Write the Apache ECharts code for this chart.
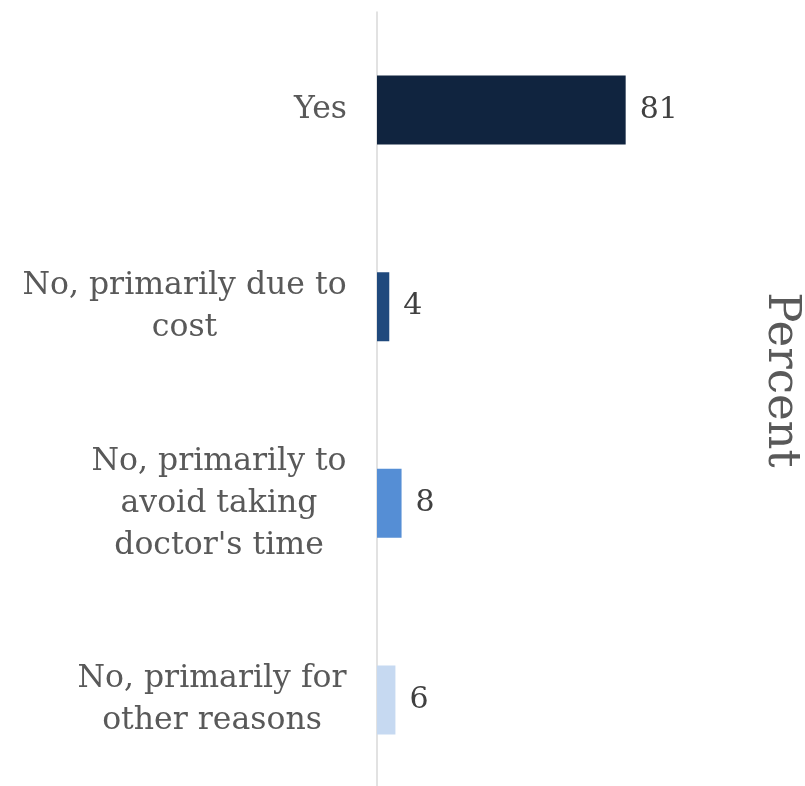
<!DOCTYPE html>
<html>
<head>
<meta charset="utf-8">
<script src="https://cdn.jsdelivr.net/npm/echarts@6/dist/echarts.min.js"></script>
<style>html,body{margin:0;padding:0;background:#fff}#c{width:805px;height:786px}</style>
</head>
<body>
<div id="c"></div>
<script>
const categories = ["Yes", "No, primarily due to\ncost", "No, primarily to\navoid taking\ndoctor's time", "No, primarily for\nother reasons"];
const values = [81, 4, 8, 6];
const barColors = ["#10243F", "#1F497D", "#558ED5", "#C6D9F1"];
const axisName = "Percent";

const FONT = "DejaVu Serif";
const LABEL_SIZE = 31.5;

const chart = echarts.init(document.getElementById('c'), null, {renderer: 'canvas'});

const cv = document.createElement('canvas').getContext('2d');
cv.font = LABEL_SIZE + 'px "' + FONT + '"';
const rich = {};
categories.forEach((c, i) => {
  const w = Math.max(...c.split('\n').map(l => cv.measureText(l).width));
  rich['c' + i] = {width: Math.ceil(w), align: 'center', fontFamily: FONT, fontSize: LABEL_SIZE, color: '#595959', lineHeight: 42};
});

chart.setOption({
  animation: false,
  backgroundColor: '#fff',
  grid: [
    {left: 377, right: 121, top: 110, bottom: 86, containLabel: false},
    {left: 377, right: 121, top: 12, bottom: 0, containLabel: false}
  ],
  xAxis: [
    {type: 'value', min: 0, max: 100, show: false, gridIndex: 0},
    {type: 'value', min: 0, max: 100, show: false, gridIndex: 1}
  ],
  yAxis: [{
    type: 'category', inverse: true, data: categories, boundaryGap: false, gridIndex: 0,
    axisLine: {show: false},
    axisTick: {show: false},
    splitLine: {show: false},
    axisLabel: {
      margin: 30, align: 'right',
      formatter: (v, i) => v.split('\n').map(l => '{c' + i + '|' + l + '}').join('\n'),
      rich: rich
    }
  }, {
    type: 'value', gridIndex: 1, min: 0, max: 1,
    axisLine: {show: true, lineStyle: {color: '#D9D9D9', width: 1.5}},
    axisTick: {show: false}, axisLabel: {show: false}, splitLine: {show: false}
  }],
  series: [{
    type: 'bar', barWidth: 69, xAxisIndex: 0, yAxisIndex: 0,
    data: values.map((v, i) => ({value: v, itemStyle: {color: barColors[i]}})),
    label: {show: true, position: 'right', distance: 14, fontFamily: FONT, fontSize: 30, color: '#404040'}
  }],
  graphic: [{
    type: 'text', x: 781, y: 380, rotation: -Math.PI / 2,
    style: {text: axisName, fontFamily: FONT, fontSize: 45, fill: '#595959', align: 'center', verticalAlign: 'middle'}
  }]
});
</script>
</body>
</html>
